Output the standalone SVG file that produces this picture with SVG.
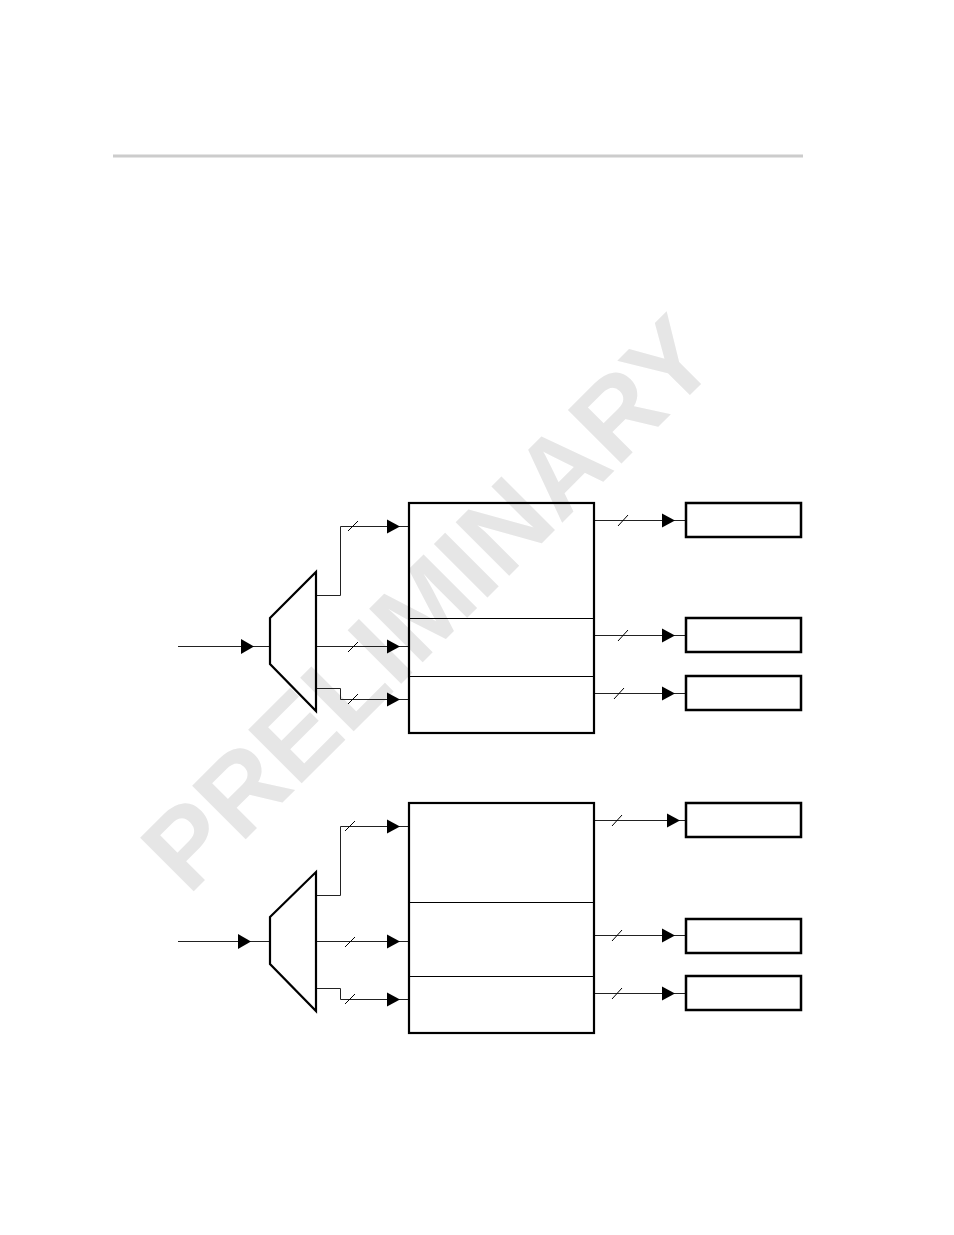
<svg xmlns="http://www.w3.org/2000/svg" width="954" height="1235" viewBox="0 0 954 1235">
<style>
.wm{font-family:"Liberation Sans",Arial,sans-serif;font-weight:bold;font-size:110px;fill:#e6e6e6}
.mux{fill:none;stroke:#000;stroke-width:2.2}
.big{fill:none;stroke:#000;stroke-width:2.2}
.div{stroke:#000;stroke-width:1}
.sm{fill:none;stroke:#000;stroke-width:2.5}
.w{fill:none;stroke:#222;stroke-width:1}
.ah{fill:#000}
.sl{stroke:#000;stroke-width:1}
</style>
<rect width="954" height="1235" fill="#fff"/>
<line x1="113" y1="156" x2="803" y2="156" stroke="#cccccc" stroke-width="3"/>
<text class="wm" transform="translate(455,630) rotate(-45)" text-anchor="middle">PRELIMINARY</text>

<g id="connectors">
  <!-- top section -->
  <path class="w" d="M178 646.5 H270"/>
  <polygon class="ah" points="241,639 254,646.5 241,654"/>
  <path class="w" d="M316 595.5 H340.5 V526.5 H409"/>
  <polygon class="ah" points="387,519.5 400,526.5 387,533.5"/>
  <line class="sl" x1="348" y1="531" x2="358" y2="521"/>
  <path class="w" d="M316 646.5 H409"/>
  <polygon class="ah" points="387,639.5 400,646.5 387,653.5"/>
  <line class="sl" x1="348" y1="652" x2="358" y2="642"/>
  <path class="w" d="M316 688.5 H340.5 V699.5 H409"/>
  <polygon class="ah" points="387,692.5 400,699.5 387,706.5"/>
  <line class="sl" x1="348" y1="704" x2="358" y2="694"/>
  <path class="w" d="M594 520.5 H686"/>
  <polygon class="ah" points="662,513.5 675,520.5 662,527.5"/>
  <line class="sl" x1="618" y1="526" x2="628" y2="515"/>
  <path class="w" d="M594 635.5 H686"/>
  <polygon class="ah" points="662,628.5 675,635.5 662,642.5"/>
  <line class="sl" x1="618" y1="641" x2="628" y2="630"/>
  <path class="w" d="M594 693.5 H686"/>
  <polygon class="ah" points="662,686.5 675,693.5 662,700.5"/>
  <line class="sl" x1="614" y1="699" x2="624" y2="688"/>
  <!-- bottom section -->
  <path class="w" d="M178 941.5 H270"/>
  <polygon class="ah" points="238,934 251,941.5 238,949"/>
  <path class="w" d="M316 895.5 H340.5 V826.5 H409"/>
  <polygon class="ah" points="387,819.5 400,826.5 387,833.5"/>
  <line class="sl" x1="345" y1="831" x2="355" y2="821"/>
  <path class="w" d="M316 941.5 H409"/>
  <polygon class="ah" points="387,934.5 400,941.5 387,948.5"/>
  <line class="sl" x1="345" y1="947" x2="355" y2="937"/>
  <path class="w" d="M316 988.5 H340.5 V999.5 H409"/>
  <polygon class="ah" points="387,992.5 400,999.5 387,1006.5"/>
  <line class="sl" x1="345" y1="1004" x2="355" y2="994"/>
  <path class="w" d="M594 820.5 H686"/>
  <polygon class="ah" points="667,813.5 680,820.5 667,827.5"/>
  <line class="sl" x1="612" y1="826" x2="622" y2="815"/>
  <path class="w" d="M594 935.5 H686"/>
  <polygon class="ah" points="662,928.5 675,935.5 662,942.5"/>
  <line class="sl" x1="612" y1="941" x2="622" y2="930"/>
  <path class="w" d="M594 993.5 H686"/>
  <polygon class="ah" points="662,986.5 675,993.5 662,1000.5"/>
  <line class="sl" x1="612" y1="999" x2="622" y2="988"/>
</g>

<g id="mux1"><polygon class="mux" points="270,618 316,572 316,711 270,664"/></g>
<g id="block1">
  <rect class="big" x="409" y="503" width="185" height="230"/>
  <line class="div" x1="409" y1="618.5" x2="594" y2="618.5"/>
  <line class="div" x1="409" y1="676.5" x2="594" y2="676.5"/>
</g>
<g id="out1a"><rect class="sm" x="686" y="503" width="115" height="34"/></g>
<g id="out1b"><rect class="sm" x="686" y="618" width="115" height="34"/></g>
<g id="out1c"><rect class="sm" x="686" y="676" width="115" height="34"/></g>

<g id="mux2"><polygon class="mux" points="270,917 316,872 316,1011 270,964"/></g>
<g id="block2">
  <rect class="big" x="409" y="803" width="185" height="230"/>
  <line class="div" x1="409" y1="902.5" x2="594" y2="902.5"/>
  <line class="div" x1="409" y1="976.5" x2="594" y2="976.5"/>
</g>
<g id="out2a"><rect class="sm" x="686" y="803" width="115" height="34"/></g>
<g id="out2b"><rect class="sm" x="686" y="919" width="115" height="34"/></g>
<g id="out2c"><rect class="sm" x="686" y="976" width="115" height="34"/></g>
</svg>
